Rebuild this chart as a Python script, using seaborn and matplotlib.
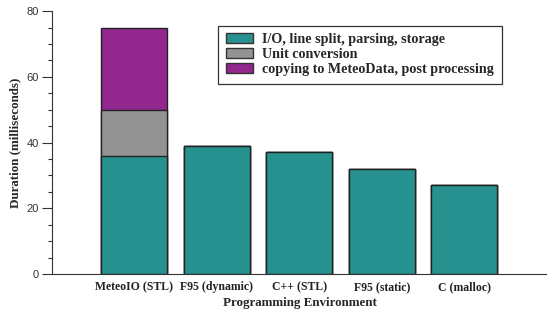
import matplotlib
matplotlib.use("Agg")
import matplotlib.pyplot as plt
import seaborn as sns
import numpy as np
import pandas as pd
from matplotlib.patches import Patch
from matplotlib.ticker import MultipleLocator

# Data
environments = ["MeteoIO (STL)", "F95 (dynamic)", "C++ (STL)", "F95 (static)", "C (malloc)"]
io_parsing = [36, 39, 37, 32, 27]
unit_conv = [14, 0, 0, 0, 0]
copy_post = [25, 0, 0, 0, 0]
series_labels = ["I/O, line split, parsing, storage", "Unit conversion",
                 "copying to MeteoData, post processing"]
colors = ["#26918F", "#939393", "#91278F"]

df = pd.DataFrame({"env": environments, "io": io_parsing,
                   "unit": unit_conv, "copy": copy_post})
df["lvl1"] = df["io"]
df["lvl2"] = df["io"] + df["unit"]
df["lvl3"] = df["lvl2"] + df["copy"]

sns.set_style("ticks")
plt.rcParams["font.family"] = ["Liberation Sans", "DejaVu Sans"]
SERIF = ["Liberation Serif", "DejaVu Serif"]

fig = plt.figure(figsize=(5.47, 3.13), dpi=100)
ax = fig.add_axes([0.095, 0.1246, 0.905, 0.84])

# stacked bars: draw cumulative totals back to front
for col, c in zip(["lvl3", "lvl2", "lvl1"], colors[::-1]):
    sns.barplot(data=df, x="env", y=col, color=c, width=0.8, saturation=1,
                edgecolor="#222222", linewidth=1.0, ax=ax)

ax.set_xlim(-1, 5)
ax.set_ylim(0, 80)
ax.yaxis.set_major_locator(MultipleLocator(20))
ax.yaxis.set_minor_locator(MultipleLocator(5))
ax.tick_params(axis="y", which="major", length=7, width=0.8, labelsize=8, pad=2.5,
               direction="out", colors="#333333", labelcolor="#333333")
ax.tick_params(axis="y", which="minor", length=3, width=0.8, colors="#333333")
ax.tick_params(axis="x", length=0, pad=5)
for lab in ax.get_xticklabels():
    lab.set_family(SERIF)
    lab.set_fontweight("bold")
    lab.set_fontsize(8.5)
    lab.set_color("#222222")

sns.despine(ax=ax)
ax.spines["left"].set_color("#333333")
ax.spines["bottom"].set_color("#333333")

ax.set_xlabel("Programming Environment", family=SERIF, fontweight="bold",
              fontsize=9.4, labelpad=3)
ax.set_ylabel("Duration (milliseconds)", family=SERIF, fontweight="bold",
              fontsize=9.4, labelpad=4)

handles = [Patch(facecolor=c, edgecolor="#333333", linewidth=1.0) for c in colors]
leg = ax.legend(handles, series_labels, loc="upper left", bbox_to_anchor=(0.335, 0.945),
                prop={"family": SERIF, "weight": "bold", "size": 10.2},
                frameon=True, fancybox=False, framealpha=1, edgecolor="#333333",
                handlelength=1.9, handleheight=0.7, handletextpad=0.7,
                labelspacing=0.12, borderpad=0.55, borderaxespad=0)
leg.get_frame().set_linewidth(0.9)

fig.savefig("out.png", dpi=100)
